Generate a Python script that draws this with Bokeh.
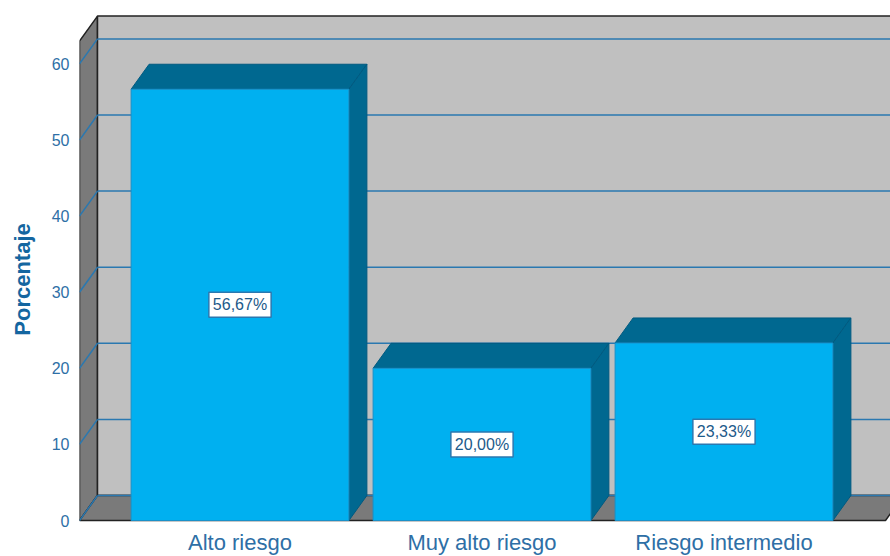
from bokeh.plotting import figure
from bokeh.models import FixedTicker, Label, Range1d
from bokeh.core.properties import value
from bokeh.embed import file_html
from bokeh.resources import INLINE

# ---- data ----
categories = ["Alto riesgo", "Muy alto riesgo", "Riesgo intermedio"]
percentages = [56.67, 20.00, 23.33]
value_labels = ["56,67%", "20,00%", "23,33%"]
y_ticks = [0, 10, 20, 30, 40, 50, 60]
y_title = "Porcentaje"

# ---- geometry / style ----
PX_X = 242.0          # pixels per category unit
PX_Y = 7.61           # pixels per percent
X0 = 0.3368
X1 = X0 + 811 / PX_X
DX = 18 / PX_X
DY = 25 / PX_Y
WALL_TOP = 63.0
FLOOR_END = X0 + 806 / PX_X
BAR_W = 0.9
Y_MIN = -38 / PX_Y
FONT = "Liberation Sans"
LABEL_BLUE = "#2e6fa6"
GRID_BLUE = "#2a78b0"

p = figure(frame_width=811, frame_height=558, x_range=Range1d(X0, X1),
           y_range=Range1d(Y_MIN, 520 / PX_Y),
           output_backend="svg", toolbar_location=None,
           min_border_left=79, min_border_right=0, min_border_top=0, min_border_bottom=0)
p.outline_line_color = None
p.background_fill_color = "white"
p.border_fill_color = "white"
p.xgrid.visible = False
p.ygrid.visible = False
p.xaxis.visible = False

# walls and floor
p.patch([X0, X0, X0 + DX, X0 + DX], [0, WALL_TOP, WALL_TOP + DY, DY],
        fill_color="#7a7a7a", line_color="#222222", line_width=1.5)
p.patch([X0 + DX, X1 + 1, X1 + 1, X0 + DX], [DY, DY, WALL_TOP + DY, WALL_TOP + DY],
        fill_color="#c0c0c0", line_color="#222222", line_width=1.5)
p.patch([X0, FLOOR_END, FLOOR_END + DX, X0 + DX], [0, 0, DY, DY],
        fill_color="#7a7a7a", line_color="#222222", line_width=1.5)

# gridlines (back wall + left wall)
gx, gy = [], []
for v in y_ticks:
    gx.append([X0 + DX, X1 + 1]); gy.append([v + DY, v + DY])
    gx.append([X0, X0 + DX]); gy.append([v, v + DY])
p.multi_line(gx, gy, line_color=GRID_BLUE, line_width=1.5)

# 3D bars
for i, v in enumerate(percentages):
    c = i + 1
    l, r = c - BAR_W / 2, c + BAR_W / 2
    p.patch([l, r, r + DX, l + DX], [v, v, v + DY, v + DY],
            fill_color="#006890", line_color="#005a80", line_width=1)
    p.patch([r, r + DX, r + DX, r], [0, DY, v + DY, v],
            fill_color="#006890", line_color="#005a80", line_width=1)
    p.quad(left=l, right=r, bottom=0, top=v,
           fill_color="#00b0f0", line_color="#1a90c8", line_width=1)

for i, (v, t) in enumerate(zip(percentages, value_labels)):
    p.add_layout(Label(x=i + 1, y=v / 2, text=t, text_align="center", text_baseline="middle",
                       text_font=FONT, text_font_size="16px", text_color="#1d5a8a",
                       background_fill_color="white", border_line_color=GRID_BLUE,
                       border_line_width=1.5, padding=4))

# category labels
cat_x = [i + 1 for i in range(len(categories))]
p.text(x=cat_x, y=[-9 / PX_Y] * len(categories), text=categories,
       text_align="center", text_baseline="top",
       text_font=value(FONT), text_font_size="22px", text_color=LABEL_BLUE)

# y axis
p.yaxis.ticker = FixedTicker(ticks=y_ticks)
p.yaxis.axis_line_color = None
p.yaxis.major_tick_line_color = None
p.yaxis.minor_tick_line_color = None
p.yaxis.major_label_standoff = 4
p.yaxis.major_label_text_font = FONT
p.yaxis.major_label_text_font_size = "16px"
p.yaxis.major_label_text_color = LABEL_BLUE
p.yaxis.axis_label = y_title
p.yaxis.axis_label_standoff = 14
p.yaxis.axis_label_text_font = FONT
p.yaxis.axis_label_text_font_style = "bold"
p.yaxis.axis_label_text_font_size = "22px"
p.yaxis.axis_label_text_color = "#1466a0"

open("out.html", "w").write(file_html(p, INLINE))
